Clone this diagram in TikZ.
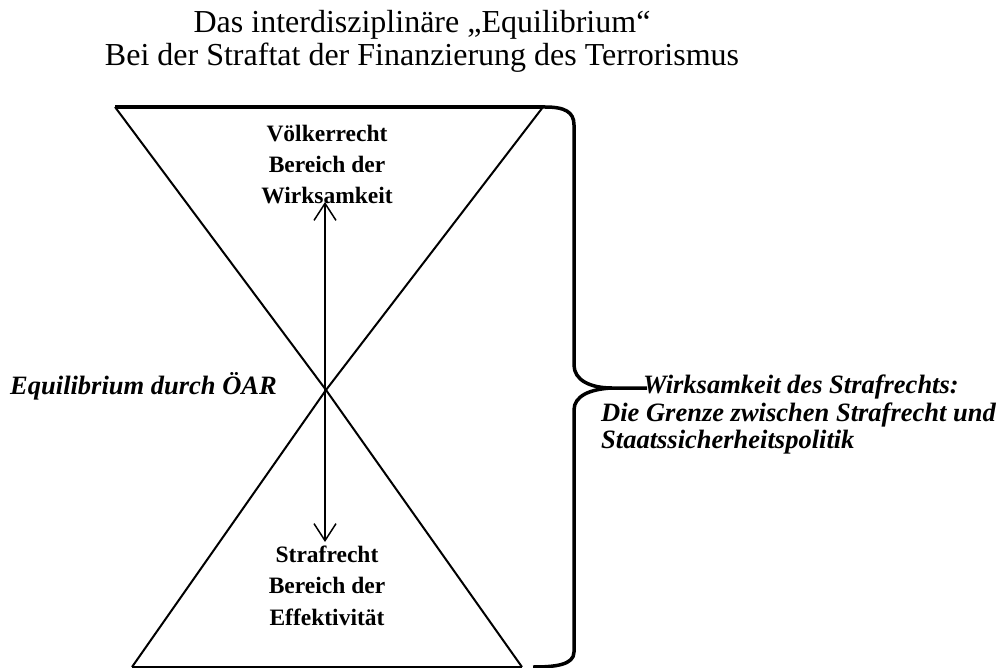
\documentclass[tikz,border=0pt]{standalone}
\usepackage{fontspec}
\setmainfont{Liberation Serif}
\usetikzlibrary{arrows.meta}
\begin{document}
\begin{tikzpicture}[x=1pt,y=-1pt,
  titletext/.style={anchor=base,inner sep=0pt,font=\fontsize{32}{38}\selectfont},
  zonetext/.style={anchor=base,inner sep=0pt,font=\fontsize{23.5}{28}\selectfont\bfseries},
  sidetext/.style={anchor=base west,inner sep=0pt,font=\fontsize{26.5}{30}\selectfont\bfseries\itshape},
  edge/.style={line width=2pt},
  rim/.style={line width=3.5pt},
  bracepath/.style={line width=3.5pt,line join=round},
  axis/.style={line width=1.5pt,{Straight Barb[length=17pt,width=22pt]}-{Straight Barb[length=17pt,width=22pt]}}
]
\useasboundingbox (0,0) rectangle (1003,668);

% heading
\node[titletext] (title1) at (422,33) {Das interdisziplinäre „Equilibrium“};
\node[titletext] (title2) at (422,66) {Bei der Straftat der Finanzierung des Terrorismus};

% hourglass: upper and lower triangle meeting at the centre
\coordinate (tl) at (115,107);
\coordinate (tr) at (543,107);
\coordinate (apex) at (326,390);
\coordinate (bl) at (132,667);
\coordinate (br) at (522,667);
\draw[edge] (tl) -- (apex) -- (tr);
\draw[rim] (tl) -- (tr);
\draw[edge] (bl) -- (apex) -- (br);
\draw[edge] (bl) -- (br);

% labels of the two fields
\node[zonetext] (vr1) at (327,142) {Völkerrecht};
\node[zonetext] (vr2) at (327,173) {Bereich der};
\node[zonetext] (vr3) at (327,204) {Wirksamkeit};
\node[zonetext] (sr1) at (327,562) {Strafrecht};
\node[zonetext] (sr2) at (327,593) {Bereich der};
\node[zonetext] (sr3) at (327,625) {Effektivität};

% vertical double arrow between the fields
\coordinate (up) at (325,202);
\coordinate (down) at (325,542);
\draw[axis] (down) -- (up);

% side labels
\node[sidetext,anchor=base east] (eq) at (277,394) {Equilibrium durch ÖAR};
\node[sidetext] (wr1) at (643,393) {Wirksamkeit des Strafrechts:};
\node[sidetext] (wr2) at (601,421) {Die Grenze zwischen Strafrecht und};
\node[sidetext] (wr3) at (601,448) {Staatssicherheitspolitik};

% curly brace on the right
\coordinate (bstart) at (520,107);
\coordinate (btip) at (647,388);
\coordinate (bend) at (533,667);
\draw[bracepath] (bstart) -- (545,107)
  .. controls (565,107) and (574,112) .. (574,125)
  -- (574,365)
  .. controls (574,380) and (590,388) .. (612,388)
  -- (btip);
\draw[bracepath] (612,388)
  .. controls (590,389) and (574,396) .. (574,410)
  -- (574,652)
  .. controls (574,665) and (555,667) .. (bend);
\end{tikzpicture}
\end{document}
